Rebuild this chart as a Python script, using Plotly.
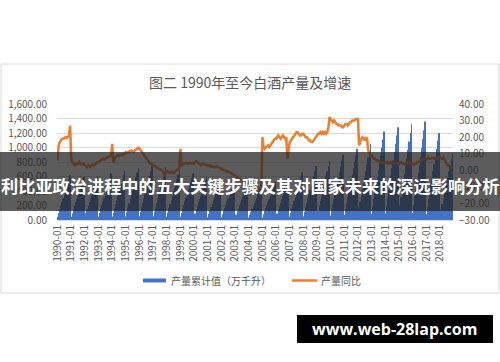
import plotly.graph_objects as go

# ---------------- data ----------------
years = list(range(1990, 2019))

# monthly cumulative production (万千升), one row per year, Jan..Dec
cumulative_by_year = [
    [43, 93, 149, 198, 248, 298, 347, 397, 453, 508, 564, 620],      # 1990
    [42, 90, 144, 192, 240, 288, 336, 384, 438, 492, 546, 600],      # 1991
    [43, 92, 146, 195, 244, 293, 342, 390, 445, 500, 555, 610],      # 1992
    [45, 96, 154, 205, 256, 307, 358, 410, 467, 525, 582, 640],      # 1993
    [48, 102, 163, 218, 272, 326, 381, 435, 496, 558, 619, 680],     # 1994
    [50, 108, 173, 230, 288, 346, 403, 461, 526, 590, 655, 720],     # 1995
    [52, 111, 178, 237, 296, 355, 414, 474, 540, 607, 673, 740],     # 1996
    [51, 110, 175, 234, 292, 350, 409, 467, 533, 599, 664, 730],     # 1997
    [48, 104, 166, 221, 276, 331, 386, 442, 504, 566, 628, 690],     # 1998
    [45, 96, 154, 205, 256, 307, 358, 410, 467, 525, 582, 640],      # 1999
    [42, 90, 144, 192, 240, 288, 336, 384, 438, 492, 546, 600],      # 2000
    [39, 84, 134, 179, 224, 269, 314, 358, 409, 459, 510, 560],      # 2001
    [37, 80, 127, 170, 212, 254, 297, 339, 387, 435, 482, 530],      # 2002
    [35, 75, 120, 160, 200, 240, 280, 320, 365, 410, 455, 500],      # 2003
    [34, 72, 115, 154, 192, 230, 269, 307, 350, 394, 437, 480],      # 2004
    [36, 78, 125, 166, 208, 250, 291, 333, 380, 426, 473, 520],      # 2005
    [41, 89, 142, 189, 236, 283, 330, 378, 431, 484, 537, 590],      # 2006
    [46, 99, 158, 211, 264, 317, 370, 422, 482, 541, 601, 660],      # 2007
    [52, 111, 178, 237, 296, 355, 414, 474, 540, 607, 673, 740],     # 2008
    [57, 123, 197, 262, 328, 394, 459, 525, 599, 672, 746, 820],     # 2009
    [63, 135, 216, 288, 360, 432, 504, 576, 657, 738, 819, 900],     # 2010
    [69, 147, 235, 314, 392, 470, 549, 627, 715, 804, 892, 980],     # 2011
    [74, 158, 252, 336, 420, 504, 588, 672, 767, 861, 956, 1050],    # 2012
    [85, 183, 293, 390, 488, 586, 683, 781, 891, 1000, 1110, 1220],  # 2013
    [90, 192, 307, 410, 512, 614, 717, 819, 934, 1050, 1165, 1280],  # 2014
    [92, 198, 317, 422, 528, 634, 739, 845, 964, 1082, 1201, 1320],  # 2015
    [95, 204, 326, 435, 544, 653, 762, 870, 993, 1115, 1238, 1360],  # 2016
    [84, 180, 288, 384, 480, 576, 672, 768, 876, 984, 1092, 1200],   # 2017
    [64, 138, 221, 294, 368, 442, 515, 589, 672, 754, 837, 920],     # 2018
]

# monthly year-on-year growth (%), one row per year, Jan..Dec
growth_by_year = [
    [6, 15, 17, 18, 19, 19, 19.5, 20, 19.5, 20, 21, 27],               # 1990
    [7, 5, 4, 3, 4, 3.5, 4, 5, 4, 3.5, 4, 4],                          # 1991
    [3, 2.5, 2, 3, 2.5, 2, 3, 3.5, 3, 4, 4.5, 5],                      # 1992
    [5, 5.5, 6, 6, 7, 6.5, 7, 7.5, 8, 8, 8.5, 9],                      # 1993
    [16, 4.5, 7, 8, 8.5, 9, 8.5, 9, 9.5, 9, 10, 10],                   # 1994
    [11, 10.5, 11, 11.5, 11, 12, 11.5, 11, 12, 12.5, 13, 13.5],        # 1995
    [13, 12, 11, 10, 9, 8, 7, 6, 5, 4.5, 4, 3.5],                      # 1996
    [3, 2.5, 2, 1.5, 1, 1, 0.5, 0.5, 0, -1, -3.5, -2],                 # 1997
    [-0.5, -1, -1.5, -1.5, -1, -1.5, -1.7, -1, -0.5, 0, 0.5, 1.5],     # 1998
    [13, 2.5, 3.5, 4, 4, 4.5, 4, 4, 4.5, 4, 4, 4.5],                   # 1999
    [4, 5, 5.5, 5, 4.5, 4, 3, 3.5, 4, 3.5, 3, 3],                      # 2000
    [3, 2.5, 3, 2, 2.5, 2, 1.5, 2, 2.5, 2, 1.5, 1],                    # 2001
    [1, 0.5, 0, 0, -0.5, -0.5, -1, -1, -1.5, -2, -2.5, -3],            # 2002
    [-3.5, -4, -4.5, -5, -5, -5.5, -6, -6, -6.5, -7, -7.5, -8],        # 2003
    [-8, -8.5, -9, -9.5, -10, -10, -10.5, -11, -11.5, -12, -13, -14],  # 2004
    [20, 14, 13, 14, 14, 15, 14, 15, 16, 17, 18, 19],                  # 2005
    [19, 20, 21, 20, 19, 20, 21, 20, 19, 20, 7, 12],                   # 2006
    [17, 18, 19, 20, 21, 22, 23, 23, 22, 21, 21, 22],                  # 2007
    [22, 21, 20, 20, 19, 18, 18, 17, 17, 18, 19, 20],                  # 2008
    [21, 22, 22, 23, 22, 23, 22, 23, 22, 23, 26, 32],                  # 2009
    [31, 30, 29, 30, 29, 28, 28, 27, 27, 27, 26, 26],                  # 2010
    [27, 28, 28, 27, 28, 29, 29, 30, 30, 30, 31, 31],                  # 2011
    [31, 15, 18, 19, 20, 19, 18, 20, 19, 12, 10, 9],                   # 2012
    [9, 8, 7, 7, 6, 6, 5.5, 5, 5, 4.5, 5, 5],                          # 2013
    [5, 4.5, 5, 4, 4.5, 5, 4, 4.5, 4, 4, 4.5, 4],                      # 2014
    [4, 5, 4.5, 4, 4, 3.5, 4, 4, 5, 4.5, 4, 4],                        # 2015
    [4, 3.5, 4, 4, 5, 5, 5.5, 6, 6, 6.5, 7, 7],                        # 2016
    [6.5, 7, 7.5, 7, 7, 7.5, 7, 7, 7.5, 7.5, 7, 7.5],                  # 2017
    [8, 7.5, 7, 7.5, 6, 5, 4, 3, 3, 2, 1.5, 1.5],                      # 2018
]

month_labels = [f"{y}-{m:02d}" for y in years for m in range(1, 13)]
year_tick_labels = [f"{y}-01" for y in years]
cumulative = [v for row in cumulative_by_year for v in row]
growth = [v for row in growth_by_year for v in row]

title_text = "图二 1990年至今白酒产量及增速"
bar_name = "产量累计值（万千升）"
line_name = "产量同比"
banner_text = "利比亚政治进程中的五大关键步骤及其对国家未来的深远影响分析"
url_text = "www.web-28lap.com"

# ---------------- layout geometry (pixels) ----------------
W, H = 500, 362
PL, PR, PT, PB = 57, 453, 104, 220


def px(x):
    return (x - PL) / (PR - PL)


def py(y):
    return (PB - y) / (PB - PT)


CJK = "Noto Sans CJK SC, Noto Sans, sans-serif"
GRAY = "#595959"
BLUE = "#4472C4"
ORANGE = "#ED7D31"

fig = go.Figure()
fig.add_trace(go.Bar(
    x=month_labels, y=cumulative, name=bar_name,
    marker=dict(color=BLUE, line=dict(width=0)),
    yaxis="y", showlegend=False,
))
fig.add_trace(go.Scatter(
    x=month_labels, y=growth, name=line_name, mode="lines",
    line=dict(color=ORANGE, width=2.5),
    yaxis="y2", showlegend=False,
))

fig.update_layout(
    width=W, height=H,
    margin=dict(l=PL, r=W - PR, t=PT, b=H - PB, autoexpand=False),
    paper_bgcolor="white", plot_bgcolor="white",
    bargap=0.5,
    font=dict(family=CJK, color=GRAY, size=10),
    xaxis=dict(
        type="category", categoryorder="array", categoryarray=month_labels,
        tickmode="array", tickvals=year_tick_labels, ticktext=year_tick_labels,
        tickangle=-90, tickfont=dict(size=10, color=GRAY),
        showgrid=False, showline=True, linecolor="#D9D9D9", ticks="",
        range=[-0.5, len(month_labels) - 0.5],
    ),
    yaxis=dict(
        range=[0, 1600], dtick=200, tickformat=",.2f",
        showgrid=True, gridcolor="#D9D9D9", gridwidth=1,
        zeroline=False, showline=False, ticks="",
        tickfont=dict(size=10, color=GRAY), ticklabelstandoff=9,
    ),
    yaxis2=dict(
        range=[-30, 40], dtick=10, tickformat=".2f",
        overlaying="y", side="right",
        showgrid=False, zeroline=False, showline=False, ticks="",
        tickfont=dict(size=10, color=GRAY), ticklabelstandoff=5,
    ),
)

shapes = [
    # chart border
    dict(type="rect", xref="paper", yref="paper",
         x0=px(1), x1=px(499), y0=py(293), y1=py(64),
         line=dict(color="#D9D9D9", width=1), fillcolor="rgba(0,0,0,0)", layer="below"),
    # legend swatches
    dict(type="rect", xref="paper", yref="paper",
         x0=px(143), x1=px(166), y0=py(282.5), y1=py(278.5),
         line=dict(width=0), fillcolor=BLUE),
    dict(type="line", xref="paper", yref="paper",
         x0=px(292), x1=px(317), y0=py(280.5), y1=py(280.5),
         line=dict(color=ORANGE, width=2.5)),
    # dark banner overlay
    dict(type="rect", xref="paper", yref="paper",
         x0=px(0), x1=px(500), y0=py(211), y1=py(152),
         line=dict(width=0), fillcolor="rgba(38,38,38,0.75)", layer="above"),
    # black url box
    dict(type="rect", xref="paper", yref="paper",
         x0=px(297), x1=px(493), y0=py(343), y1=py(315),
         line=dict(width=0), fillcolor="black", layer="above"),
]

annotations = [
    dict(text=title_text, xref="paper", yref="paper", x=px(250), y=py(82),
         showarrow=False, xanchor="center", yanchor="middle",
         font=dict(family=CJK, size=14, color=GRAY)),
    dict(text=bar_name, xref="paper", yref="paper", x=px(169), y=py(280.5),
         showarrow=False, xanchor="left", yanchor="middle",
         font=dict(family=CJK, size=10, color=GRAY)),
    dict(text=line_name, xref="paper", yref="paper", x=px(319), y=py(280.5),
         showarrow=False, xanchor="left", yanchor="middle",
         font=dict(family=CJK, size=10, color=GRAY)),
    dict(text=f"<b>{banner_text}</b>", xref="paper", yref="paper", x=px(249.5), y=py(185),
         showarrow=False, xanchor="center", yanchor="middle",
         font=dict(family=CJK, size=17.2, color="white")),
    dict(text=f"<b>{url_text}</b>", xref="paper", yref="paper", x=px(394), y=py(329),
         showarrow=False, xanchor="center", yanchor="middle",
         font=dict(family="Open Sans, DejaVu Sans, sans-serif", size=16, color="white")),
]

fig.update_layout(shapes=shapes, annotations=annotations)

fig.write_html(
    "out.html",
    config={"displayModeBar": False},
    post_script="document.body.style.margin='0';document.body.style.overflow='hidden';",
)
